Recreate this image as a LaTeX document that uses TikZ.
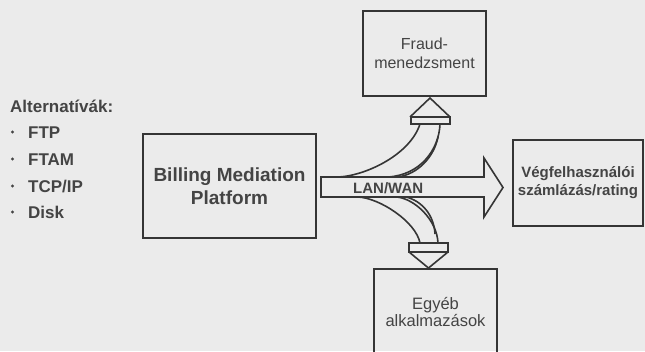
\documentclass[tikz,border=0pt]{standalone}
\usepackage{fontspec}
\setmainfont{Liberation Sans}
\definecolor{paper}{HTML}{EBEBEB}
\definecolor{ink}{HTML}{353535}
\definecolor{txt}{HTML}{444444}
\begin{document}
\begin{tikzpicture}[x=1pt,y=-1pt,line join=miter]
\tikzset{
  box/.style={draw=ink,line width=1.8pt,inner sep=0pt,text=txt,align=center},
  label/.style={inner sep=0pt,text=txt},
  blockarrow/.style={draw=ink,line width=1.6pt},
  dot/.style={fill=txt}
}
\clip (0,0) rectangle (645,351);
\fill[paper] (0,0) rectangle (645,351);

% list of transfer alternatives
\node[label,anchor=base west,font=\bfseries\fontsize{17}{20}\selectfont] (alt) at (10,112) {Alternatívák:};
\node[label,anchor=base west,font=\bfseries\fontsize{17}{20}\selectfont] (ftp)  at (28,138) {FTP};
\node[label,anchor=base west,font=\bfseries\fontsize{17}{20}\selectfont] (ftam) at (28,165) {FTAM};
\node[label,anchor=base west,font=\bfseries\fontsize{17}{20}\selectfont] (tcp)  at (28,192) {TCP/IP};
\node[label,anchor=base west,font=\bfseries\fontsize{17}{20}\selectfont] (disk) at (28,218) {Disk};
\foreach \y in {132,159,186,212} \fill[dot] (12.5,\y) circle (1.6);

% boxes
\node[box,minimum width=173pt,minimum height=104pt,font=\bfseries\fontsize{19}{23}\selectfont] (bmp) at (229.5,186) {Billing Mediation\\Platform};
\node[box,minimum width=123pt,minimum height=85pt,font=\fontsize{16}{19}\selectfont] (fraud) at (424.5,53.5) {Fraud-\\menedzsment};
\node[box,minimum width=130pt,minimum height=86pt,font=\bfseries\fontsize{15}{18}\selectfont] (veg) at (578,183) {Végfelhasználói\\számlázás/rating};
\node[box,minimum width=123pt,minimum height=100pt] (egy) at (435.5,319) {};
\node[label,align=center,font=\fontsize{16.5}{17.5}\selectfont] (egytxt) at (435.5,312) {Egyéb\\alkalmazások};

% main LAN/WAN arrow
\draw[blockarrow] (321,177) -- (484,177) -- (484,158) -- (503,187.5) -- (484,217) -- (484,197) -- (321,197) -- cycle;
\node[label,anchor=base west,font=\bfseries\fontsize{15}{18}\selectfont] (lan) at (353,193) {LAN/WAN};

% curved branch up to fraud management
\draw[blockarrow] (411,124) -- (411,117) -- (450,117) -- (450,124) -- cycle;
\draw[blockarrow] (410,117) -- (430,98) -- (450,117);
\draw[blockarrow] (420,124) .. controls (410,155) and (365,176) .. (338,177);
\draw[blockarrow] (440,124) .. controls (439,150) and (420,175) .. (388,177);
\draw[blockarrow] (438,137) .. controls (434,157) and (418,174) .. (398,177);

% curved branch down to other applications
\draw[blockarrow] (409,243) -- (409,252) -- (448,252) -- (448,243) -- cycle;
\draw[blockarrow] (409,252) -- (428.5,268) -- (448,252);
\draw[blockarrow] (358,197) .. controls (380,198) and (416,222) .. (420,243);
\draw[blockarrow] (397,197) .. controls (415,199) and (437,220) .. (438,243);
\draw[blockarrow] (406,197) .. controls (422,201) and (434,215) .. (435,234);
\end{tikzpicture}
\end{document}
